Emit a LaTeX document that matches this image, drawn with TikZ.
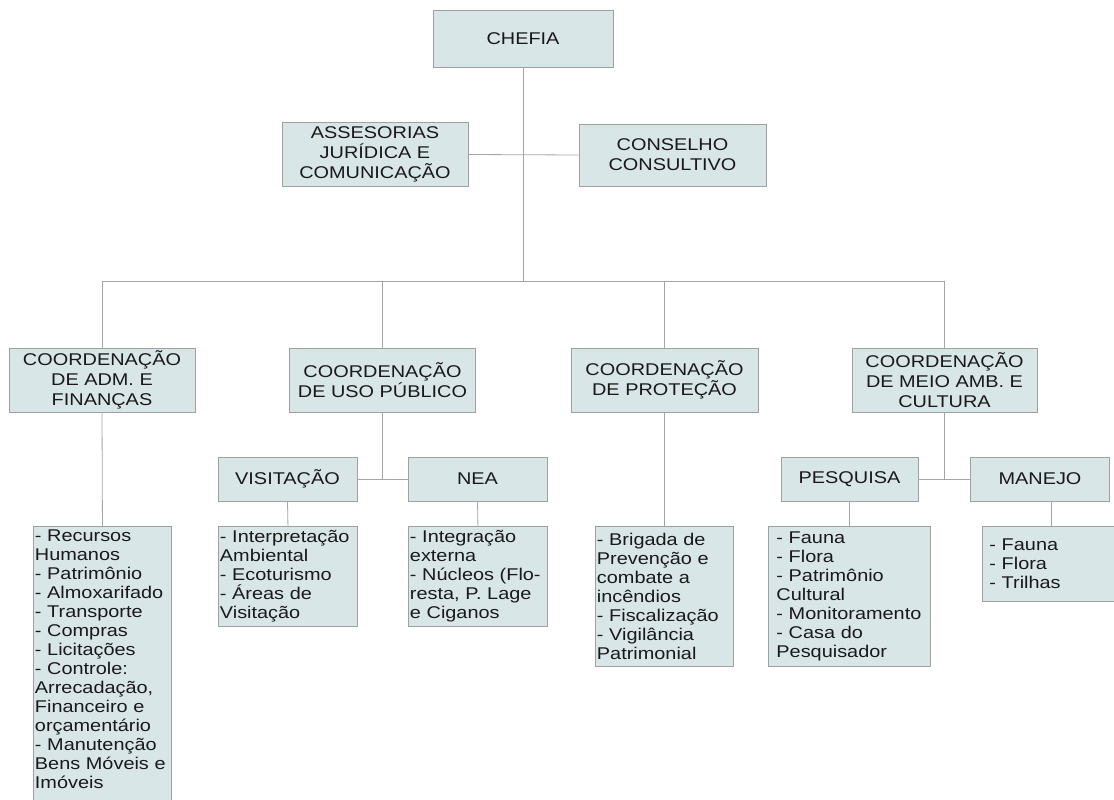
\documentclass[tikz,border=0pt]{standalone}
\usepackage{fontspec}
\setmainfont{Liberation Sans}[FakeStretch=1.17]
\usepackage{tikz}
\usetikzlibrary{positioning,calc}
\definecolor{BoxFill}{RGB}{217,230,232}
\definecolor{BoxLine}{RGB}{160,160,160}
\definecolor{LinkGray}{RGB}{165,165,165}
\definecolor{InkGray}{RGB}{25,25,25}
\tikzset{
  unit/.style={draw=BoxLine,fill=BoxFill,line width=0.9pt,align=center,inner sep=2pt,
    text=InkGray,font=\fontsize{17}{20}\selectfont},
  duty/.style={draw=BoxLine,fill=BoxFill,line width=0.9pt,align=left,anchor=north west,
    inner xsep=1.5pt,inner ysep=3pt,text=InkGray,font=\fontsize{17}{19}\selectfont},
  link/.style={draw=LinkGray,line width=0.8pt},
}

\begin{document}
\begin{tikzpicture}[x=1pt,y=-1pt]
        \useasboundingbox (0,0) rectangle (1114,800);
        \clip (0,0) rectangle (1114,800);
        \fill[white] (0,0) rectangle (1114,800);
        % top levels
        \node[unit,minimum width=180,minimum height=57] (chefia) at (523,38.5) {CHEFIA};
        \node[unit,minimum width=186,minimum height=64] (asses) at (375,154.5) {ASSESORIAS\\JURÍDICA E\\COMUNICAÇÃO};
        \node[unit,minimum width=187,minimum height=62] (cons) at (672.5,155) {CONSELHO\\CONSULTIVO};
        \coordinate (bus) at (523,281);
        % coordinations
        \node[unit,minimum width=186,minimum height=64] (adm) at (102,380) {COORDENAÇÃO\\DE ADM. E\\FINANÇAS};
        \node[unit,minimum width=186,minimum height=64] (uso) at (382.5,380) {COORDENAÇÃO\\DE USO PÚBLICO};
        \node[unit,minimum width=187,minimum height=64] (prot) at (664.5,380) {COORDENAÇÃO\\DE PROTEÇÃO};
        \node[unit,minimum width=185,minimum height=64] (meio) at (944.5,380) {COORDENAÇÃO\\DE MEIO AMB. E\\CULTURA};
        % sectors
        \node[unit,minimum width=139,minimum height=44] (vis) at (287.5,479) {VISITAÇÃO};
        \node[unit,minimum width=139,minimum height=44] (nea) at (477.5,479) {NEA};
        \node[unit,minimum width=137,minimum height=44] (pesq) at (849.5,479) {PESQUISA};
        \node[unit,minimum width=139,minimum height=44] (man) at (1040,479) {MANEJO};
        % duty lists
        \node[duty,text width=135] (admL) at (33,526) {- Recursos\\Humanos\\- Patrimônio\\- Almoxarifado\\- Transporte\\- Compras\\- Licitações\\- Controle:\\Arrecadação,\\Financeiro e\\orçamentário\\- Manutenção\\Bens Móveis e\\Imóveis\\[8pt]\mbox{}};
        \node[duty,text width=136,minimum height=100] (visL) at (218,526) {- Interpretação\\Ambiental\\- Ecoturismo\\- Áreas de\\Visitação};
        \node[duty,text width=136,minimum height=100] (neaL) at (408,526) {- Integração\\externa\\- Núcleos (Flo-\\resta, P. Lage\\e Ciganos};
        \node[duty,text width=135,minimum height=140] (protL) at (595,526) {- Brigada de\\Prevenção e\\combate a\\incêndios\\- Fiscalização\\- Vigilância\\Patrimonial};
        \node[duty,text width=146,inner xsep=8pt,minimum height=140] (pesqL) at (768,526) {- Fauna\\- Flora\\- Patrimônio\\Cultural\\- Monitoramento\\- Casa do\\Pesquisador};
        \node[duty,text width=124,inner xsep=7pt,minimum height=75] (manL) at (982,526) {- Fauna\\- Flora\\- Trilhas};
        % connectors
        \draw[link] (chefia) -- (bus);
        \draw[link] (asses.east) -- (cons.west);
        \foreach \c in {adm,uso,prot,meio}
          \draw[link] (bus) -| (\c.north);
        \draw[link] (uso.south) -- (uso.south |- vis.east);
        \draw[link] (vis.east) -- (nea.west);
        \draw[link] (meio.south) -- (meio.south |- pesq.east);
        \draw[link] (pesq.east) -- (man.west);
        \foreach \a/\b in {adm/admL,vis/visL,nea/neaL,prot/protL,pesq/pesqL}
          \draw[link] (\a.south) -- (\b.north);
        \draw[link] (manL.north |- man.south) -- (manL.north);
\end{tikzpicture}
\end{document}
